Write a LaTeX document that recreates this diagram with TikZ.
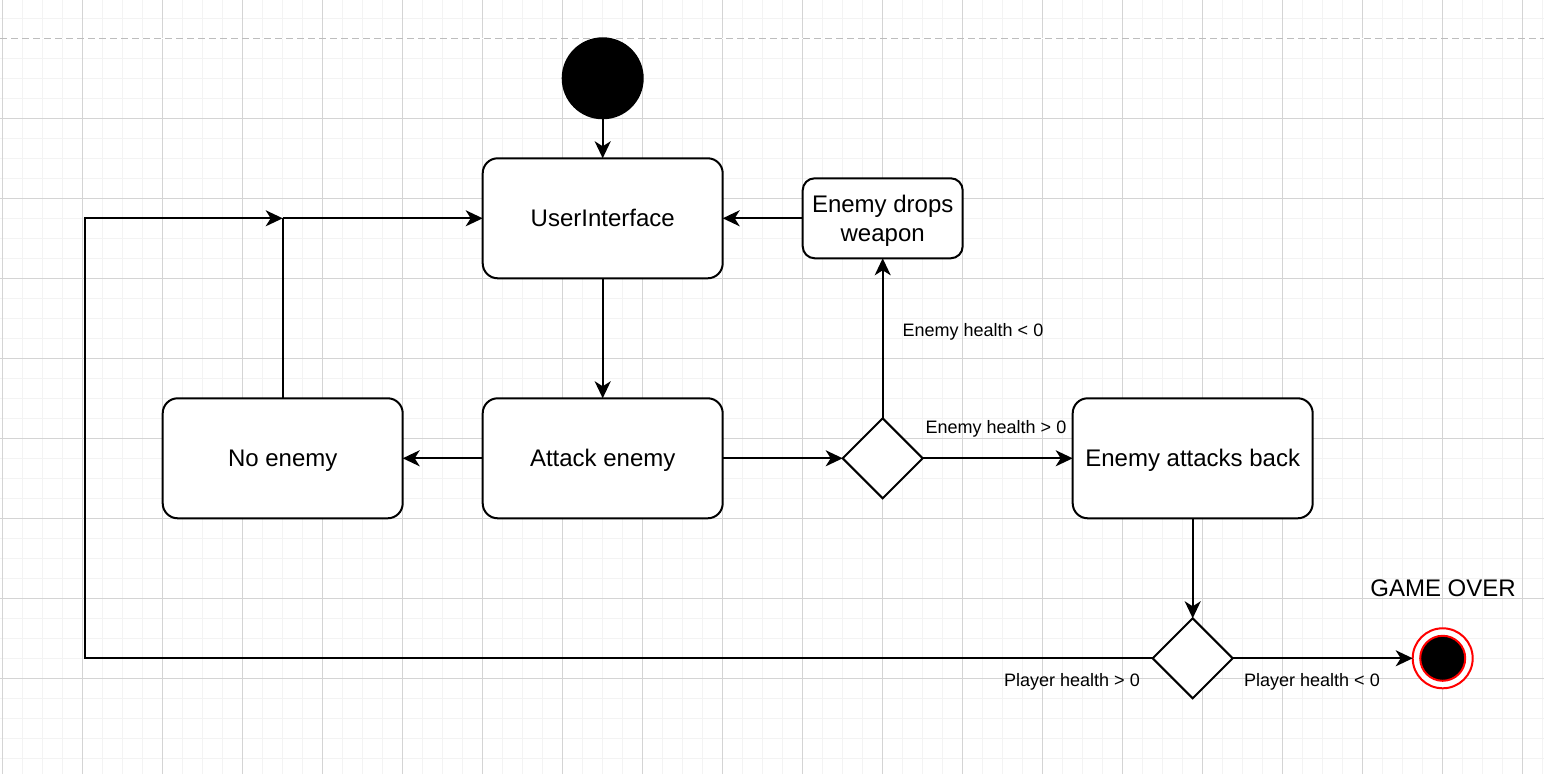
\documentclass[tikz,border=0pt]{standalone}
\usepackage{fontspec}
\setmainfont{Liberation Sans}
\usetikzlibrary{shapes.geometric,arrows.meta}
\definecolor{gminor}{HTML}{F3F3F3}
\definecolor{gmajor}{HTML}{D4D4D4}
\definecolor{gdash}{HTML}{BDBDBD}
\tikzset{
 box/.style={draw, line width=1pt, rounded corners=7.5pt, fill=white, minimum width=120pt, minimum height=60pt, inner sep=0pt, outer sep=0pt, font=\fontsize{12}{14.5}\selectfont, align=center, text depth=0pt},
 dec/.style={draw, diamond, line width=1pt, fill=white, minimum width=40pt, minimum height=40pt, inner sep=0pt, outer sep=0pt, aspect=1},
 conn/.style={line width=1pt, -{Stealth[length=8.5pt,width=8pt,inset=2.5pt]}},
 plain/.style={line width=1pt},
 lbl/.style={font=\fontsize{9}{11}\selectfont, inner sep=0pt},
 minorline/.style={draw=gminor, line width=0.5pt},
 majorline/.style={draw=gmajor, line width=0.5pt},
}
\begin{document}
\begin{tikzpicture}[x=0.5pt,y=-0.5pt]
\useasboundingbox (0,0) rectangle (1544,774);
\fill[white] (0,0) rectangle (1544,774);
% grid
\foreach \i in {0,...,77} {\draw[minorline] ({2.7+20*\i},0) -- ({2.7+20*\i},774);}
\foreach \j in {0,...,38} {\draw[minorline] (0,{-1.7+20*\j}) -- (1544,{-1.7+20*\j});}
\foreach \i in {0,...,19} {\draw[majorline] ({2.7+80*\i},0) -- ({2.7+80*\i},774);}
\foreach \j in {0,...,9} {\draw[majorline] (0,{-41.7+80*\j}) -- (1544,{-41.7+80*\j});}
\fill[white] (0,37.6) rectangle (1544,39);
\draw[draw=gdash, line width=0.6pt, dash pattern=on 3.5pt off 2pt] (0,38.3) -- (1544,38.3);

% nodes
\node[circle, fill=black, minimum size=41pt, inner sep=0pt, outer sep=0pt] (start) at (602.7,78.3) {};
\node[box] (ui) at (602.7,218.3) {UserInterface};
\node[box, minimum width=80pt, minimum height=40pt, rounded corners=6pt] (edw) at (882.7,218.3) {Enemy drops\\weapon};
\node[box] (noenemy) at (282.7,458.3) {No enemy};
\node[box] (attack) at (602.7,458.3) {Attack enemy};
\node[box] (eab) at (1192.7,458.3) {Enemy attacks back};
\node[dec] (d1) at (882.7,458.3) {};
\node[dec] (d2) at (1192.7,658.3) {};
\node[circle, draw=red, line width=1pt, fill=white, minimum size=30pt, inner sep=0pt, outer sep=0pt] (final) at (1442.7,658.3) {};
\node[circle, draw=red, line width=1pt, fill=black, minimum size=22.5pt, inner sep=0pt] (finalin) at (final.center) {};
\node[font=\fontsize{12}{14}\selectfont, inner sep=0pt, text depth=0pt] (gameover) at (1443,588) {GAME OVER};

\coordinate (junc) at (282.7,218.3);
\coordinate (lowleft) at (84.7,658.3);
\coordinate (upleft) at (84.7,218.3);

% connectors
\draw[conn] (start.south) -- (ui.north);
\draw[conn] (edw.west) -- (ui.east);
\draw[conn] (ui.south) -- (attack.north);
\draw[conn] (attack.west) -- (noenemy.east);
\draw[plain] (noenemy.north) -- (junc);
\draw[conn] (junc) -- (ui.west);
\draw[conn] (attack.east) -- (d1.west);
\draw[conn] (d1.north) -- (edw.south);
\draw[conn] (d1.east) -- (eab.west);
\draw[conn] (eab.south) -- (d2.north);
\draw[conn] (d2.east) -- (final.west);
\draw[conn] (d2.west) -- (lowleft) -- (upleft) -- (junc);

% labels
\node[lbl] (l1) at (973,331.5) {Enemy health < 0};
\node[lbl] (l2) at (996,428.5) {Enemy health > 0};
\node[lbl] (l3) at (1072,681.5) {Player health > 0};
\node[lbl] (l4) at (1312,681.5) {Player health < 0};
\end{tikzpicture}
\end{document}
